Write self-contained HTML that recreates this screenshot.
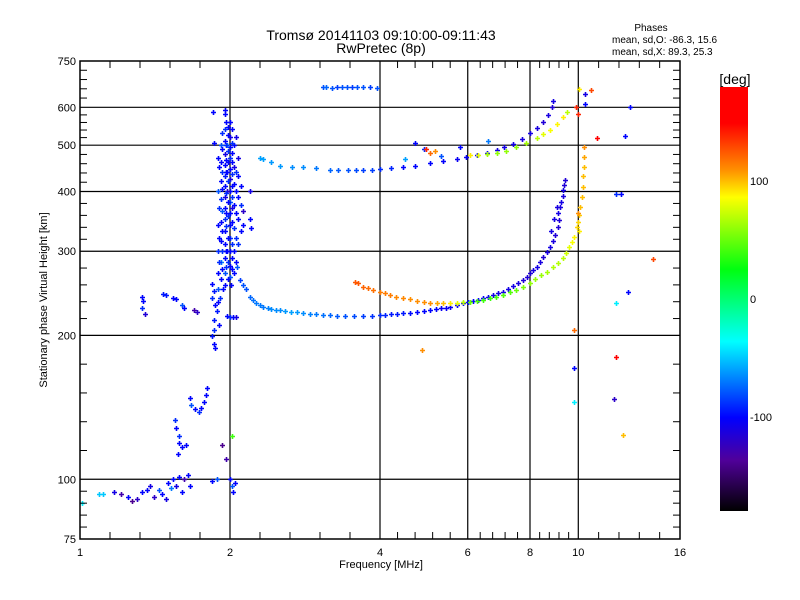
<!DOCTYPE html>
<html><head><meta charset="utf-8">
<style>
html,body{margin:0;padding:0;background:#fff;}
svg{display:block;font-family:"Liberation Sans",sans-serif;}
</style></head>
<body>
<svg id="chart" width="800" height="600" viewBox="0 0 800 600" xmlns="http://www.w3.org/2000/svg">
<defs>
<linearGradient id="cbar" x1="0" y1="0" x2="0" y2="1">
<stop offset="0" stop-color="#ff0000"/><stop offset="0.085" stop-color="#ff0000"/>
<stop offset="0.196" stop-color="#ff9000"/><stop offset="0.26" stop-color="#ffff00"/>
<stop offset="0.43" stop-color="#00ff10"/><stop offset="0.60" stop-color="#00ffff"/>
<stop offset="0.78" stop-color="#0000ff"/><stop offset="0.88" stop-color="#50009a"/>
<stop offset="1" stop-color="#000000"/>
</linearGradient>
</defs>
<text x="381" y="40" font-size="14" text-anchor="middle">Tromsø 20141103 09:10:00-09:11:43</text>
<text x="381" y="53" font-size="14" text-anchor="middle">RwPretec (8p)</text>
<text x="651" y="31" font-size="10" text-anchor="middle">Phases</text>
<text x="612" y="43" font-size="10">mean, sd,O: -86.3, 15.6</text>
<text x="612" y="55" font-size="10">mean, sd,X:  89.3, 25.3</text>
<g id="grid"></g>
<g id="marks"></g>
<rect x="80" y="61" width="600" height="478" fill="none" stroke="#000" stroke-width="1.5"/>
<g id="axes"></g>
<text x="381" y="568" font-size="11" text-anchor="middle">Frequency [MHz]</text>
<text x="0" y="0" font-size="11" text-anchor="middle" transform="translate(47,300) rotate(-90)">Stationary phase Virtual Height [km]</text>
<rect x="720" y="87" width="28" height="424" fill="url(#cbar)"/>
<text x="735" y="84" font-size="14" text-anchor="middle">[deg]</text>
<g id="cbticks"></g>
</svg>
<script>
const xTicks=[1,2,4,6,8,10,16];
const yTicks=[75,100,200,300,400,500,600,750];
const cbTicks=[100,0,-100];
const topLine=[[3.07,662,-80],[3.12,662,-75],[3.2,660,-80],[3.28,661,-85],[3.36,661,-80],[3.44,662,-80],[3.52,661,-85],[3.6,662,-80],[3.7,661,-80],[3.82,661,-85],[3.95,660,-80]];
const oLower=[[2.07,278,-80],[2.09,261,-85],[2.12,255,-80],[2.15,250,-80],[2.19,241,-75],[2.22,237,-72],[2.26,234,-70],[2.3,231,-70],[2.33,229,-70],[2.38,228,-68],[2.42,227,-65],[2.47,226,-65],[2.52,226,-65],[2.58,225,-62],[2.65,224,-60],[2.72,224,-62],[2.80,223,-65],[2.89,222,-68],[2.98,222,-70],[3.07,221,-72],[3.17,221,-75],[3.28,220,-78],[3.40,220,-80],[3.55,220,-82],[3.70,220,-85],[3.85,220,-88],[4.0,221,-90],[4.1,221,-92],[4.2,222,-95],[4.32,222,-95],[4.45,223,-95],[4.6,223,-98],[4.75,224,-100],[4.9,225,-100],[5.04,226,-100],[5.17,227,-102],[5.3,228,-105],[5.42,228,-105],[5.53,229,-105],[5.7,231,-105],[5.87,234,-105],[6.0,235,-100],[6.15,236,-100],[6.3,237,-102],[6.44,239,-105],[6.6,241,-108],[6.75,243,-110],[6.9,245,-110],[7.06,247,-110],[7.23,250,-110],[7.4,254,-110],[7.58,257,-112],[7.75,261,-115],[7.88,265,-115],[8.0,270,-115],[8.13,274,-112],[8.26,278,-110],[8.38,285,-112],[8.5,292,-115],[8.64,299,-112],[8.77,306,-110],[8.9,315,-112],[9.0,325,-115],[9.1,337,-115],[9.15,349,-115],[9.1,361,-110],[9.2,372,-112],[9.25,380,-110],[9.3,392,-112],[9.32,403,-110],[9.36,413,-115],[9.41,423,-115],[8.95,350,-110],[9.05,372,-112],[8.8,330,-110]];
const xLower=[[3.56,259,125],[3.62,257,125],[3.7,253,122],[3.78,251,120],[3.87,249,118],[4.0,246,115],[4.1,245,115],[4.19,243,115],[4.3,241,112],[4.45,240,112],[4.59,238,110],[4.75,236,110],[4.9,235,110],[5.04,234,110],[5.2,234,105],[5.35,234,100],[5.53,234,90],[5.7,234,80],[5.87,235,70],[6.06,235,50],[6.25,236,45],[6.44,237,40],[6.64,239,40],[6.85,241,42],[7.06,243,45],[7.28,246,45],[7.5,249,50],[7.75,253,55],[8.0,257,60],[8.2,262,62],[8.43,267,62],[8.66,272,65],[8.9,278,67],[9.1,284,68],[9.32,290,70],[9.45,298,75],[9.6,306,80],[9.7,314,85],[9.8,322,88],[9.95,337,95],[10.0,345,95],[10.05,358,98],[10.1,372,100],[10.15,390,100],[10.2,409,100],[10.22,430,100],[10.25,450,100],[10.25,472,105],[10.25,495,110],[10.0,360,110],[10.05,330,90]];
const oUpper=[[2.3,470,-60],[2.33,468,-60],[2.42,460,-62],[2.52,453,-62],[2.66,451,-65],[2.8,450,-65],[2.98,447,-70],[3.17,443,-75],[3.3,443,-78],[3.45,443,-80],[3.58,443,-82],[3.7,443,-85],[3.85,444,-85],[4.0,445,-90],[4.2,447,-92],[4.45,450,-100],[4.7,453,-100],[5.04,459,-100],[5.35,463,-102],[5.7,468,-105],[5.95,472,-105],[6.25,476,-105],[6.55,482,-108],[6.86,489,-110],[7.1,496,-110],[7.4,504,-110],[7.7,515,-112],[8.0,530,-110],[8.25,543,-112],[8.5,558,-115],[8.68,578,-112],[8.85,600,-115],[8.9,618,-110],[4.7,505,-100],[4.9,492,-90],[5.3,475,-80],[4.5,468,-60],[5.8,495,-100],[6.6,510,-70]];
const xUpper=[[6.06,476,90],[6.3,478,80],[6.55,479,65],[6.86,481,60],[7.15,487,60],[7.5,495,60],[7.85,506,65],[8.26,518,70],[8.5,527,80],[8.77,538,85],[9.05,553,88],[9.32,572,90],[9.5,588,70],[4.95,490,140],[5.05,482,120],[5.15,486,110]];
const spike=[[1.95,592,-100],[1.95,580,-100],[1.95,540,-90],[1.95,510,-100],[1.95,480,-110],[1.95,455,-100],[1.95,430,-95],[1.95,410,-100],[1.95,390,-110],[1.95,370,-100],[1.95,350,-90],[1.95,330,-100],[1.95,310,-100],[1.95,290,-100],[1.95,270,-80],[1.95,255,-100],[2.0,560,-100],[2.0,520,-110],[2.0,495,-100],[2.0,470,-90],[2.0,445,-100],[2.0,425,-110],[2.0,400,-100],[2.0,380,-80],[2.0,360,-100],[2.0,340,-100],[2.0,320,-90],[2.0,300,-100],[2.0,280,-100],[2.0,265,-80],[1.92,500,-80],[1.92,460,-100],[1.92,420,-100],[1.92,385,-90],[1.92,345,-100],[1.92,315,-100],[1.92,285,-70],[1.92,262,-100],[2.04,500,-100],[2.04,450,-110],[2.04,415,-100],[2.04,375,-100],[2.04,335,-90],[2.04,300,-100],[2.04,270,-100],[1.89,470,-100],[1.89,400,-80],[1.89,340,-100],[1.89,300,-90],[1.89,270,-100],[1.89,250,-80],[1.89,235,-100],[2.08,470,-110],[2.08,430,-100],[2.08,390,-100],[2.08,350,-100],[2.08,310,-90],[1.97,500,-70],[1.97,440,-100],[1.97,400,-120],[1.97,300,-100],[1.98,545,-100],[2.02,460,-100],[2.02,370,-110],[2.02,290,-100],[2.19,400,-110],[2.19,350,-100],[2.2,335,-100],[2.12,365,-120],[2.12,340,-100],[1.97,220,-100],[2.0,219,-90],[2.03,218,-100],[2.06,219,-110],[1.86,505,-100],
[1.93,530,-90],[1.93,490,-100],[1.93,440,-90],[1.93,405,-100],[1.93,365,-80],[1.93,330,-100],[1.93,300,-90],[1.93,275,-100],[1.98,525,-100],[1.98,485,-90],[1.98,462,-100],[1.98,420,-90],[1.98,380,-100],[1.98,355,-90],[1.98,320,-100],[1.98,285,-90],[1.98,262,-100],[2.02,540,-100],[2.02,505,-90],[2.02,482,-100],[2.02,435,-90],[2.02,410,-100],[2.02,390,-90],[2.02,345,-100],[2.02,310,-90],[2.02,275,-100],[2.06,520,-110],[2.06,440,-90],[2.06,400,-100],[2.06,360,-100],[2.06,320,-90],[2.06,285,-100],[1.9,450,-100],[1.9,370,-90],[1.9,320,-100],[1.9,285,-90],[2.1,410,-100],[2.1,375,-90],[2.1,330,-100],[1.96,560,-100],[1.96,500,-90],[1.96,465,-100],[1.96,440,-100],[1.96,398,-90],[1.96,360,-100],[1.96,338,-90],[1.96,300,-100],[1.96,278,-90],[1.94,250,-100],[1.91,240,-90],[2.01,255,-100]];
const lowerLeft=[[1.33,241,-100],[1.34,236,-100],[1.33,228,-90],[1.35,222,-115],[1.47,244,-95],[1.49,243,-95],[1.54,240,-100],[1.56,238,-100],[1.6,232,-80],[1.62,228,-100],[1.69,226,-130],[1.72,224,-120],[1.84,256,-100],[1.86,248,-95],[1.84,240,-90],[1.87,232,-100],[1.88,225,-95],[1.86,215,-95],[1.9,210,-100],[1.86,205,-90],[1.84,199,-95],[1.86,192,-100],[1.87,188,-100],[1.80,155,-100],[1.79,150,-100],[1.66,148,-100],[1.67,143,-80],[1.70,140,-100],[1.73,138,-90],[1.75,141,-100],[1.77,145,-100],[1.55,133,-90],[1.56,128,-100],[1.58,123,-90],[1.58,119,-100],[1.6,117,-100],[1.63,118,-100],[1.57,113,-100],[1.01,89,-40],[1.09,93,-50],[1.11,93,-50],[1.17,94,-110],[1.21,93,-130],[1.25,92,-100],[1.27,90,-140],[1.3,91,-120],[1.33,94,-100],[1.36,95,-100],[1.38,97,-110],[1.41,92,-120],[1.44,95,-80],[1.46,93,-100],[1.49,91,-110],[1.5,98,-100],[1.52,96,-70],[1.54,100,-100],[1.56,97,-110],[1.58,101,-100],[1.6,94,-100],[1.62,100,-130],[1.66,97,-100],[1.65,102,-100],[1.84,99,-100],[1.88,100,-80],[1.96,110,-130],[2.0,100,-100],[2.02,97,-80],[2.05,98,-100],[2.03,94,-100],[1.93,118,-140],[2.02,123,40]];
const outliers=[[11.9,234,-40],[12.6,247,-100],[14.1,289,130],[11.9,180,160],[10.9,517,150],[12.4,522,-100],[12.7,600,-100],[11.9,396,-90],[12.2,396,-100],[11.8,147,-120],[12.3,124,100],[9.8,171,-100],[9.8,145,-40],[9.8,205,120],[4.86,186,110],[10.04,655,90],[10.6,652,130],[10.3,640,-110],[10.3,610,-100],[9.9,600,140],[10.0,580,140],[1.85,588,-100]];
const traces=[topLine,oLower,xLower,oUpper,xUpper,spike,lowerLeft,outliers];

const X0=80,X1=680,Y0=539,Y1=61;
function xScale(f){return X0+(X1-X0)*Math.log2(f)/4;}
function yScale(h){return Y0-(Y0-Y1)*Math.log10(h/75);}
const stops=[[0,[255,0,0]],[0.085,[255,0,0]],[0.196,[255,144,0]],[0.26,[255,255,0]],[0.43,[0,255,16]],[0.60,[0,255,255]],[0.78,[0,0,255]],[0.88,[80,0,154]],[1,[0,0,0]]];
function phaseColor(p){let t=(180-p)/360;t=Math.max(0,Math.min(1,t));
 for(let i=1;i<stops.length;i++){if(t<=stops[i][0]){const a=stops[i-1],b=stops[i];const u=(t-a[0])/((b[0]-a[0])||1);
 const c=a[1].map((v,k)=>Math.round(v+(b[1][k]-v)*u));return 'rgb('+c.join(',')+')';}}return '#000';}
const NS='http://www.w3.org/2000/svg';
function mk(tag,attrs,parent){const e=document.createElementNS(NS,tag);for(const k in attrs)e.setAttribute(k,attrs[k]);parent.appendChild(e);return e;}
const grid=document.getElementById('grid'),axes=document.getElementById('axes'),marks=document.getElementById('marks'),cbt=document.getElementById('cbticks');
xTicks.forEach((f,i)=>{const x=xScale(f);
 if(i>0&&i<xTicks.length-1){const l=mk('line',{x1:x,y1:Y1,x2:x,y2:Y0,stroke:'#000','stroke-width':1.2},grid);
 
 }
 const t=mk('text',{x:x,y:556,'font-size':11,'text-anchor':'middle'},axes);t.textContent=f;
 
 
 if(i<xTicks.length-1){const xa=x,xb=xScale(xTicks[i+1]);for(let k=1;k<5;k++){const xm=xa+(xb-xa)*k/5;
 mk('line',{x1:xm,y1:Y0,x2:xm,y2:Y0-7,stroke:'#000'},axes);mk('line',{x1:xm,y1:Y1,x2:xm,y2:Y1+7,stroke:'#000'},axes);}}
});
yTicks.forEach((h,i)=>{const y=yScale(h);
 if(i>0&&i<yTicks.length-1){const l=mk('line',{x1:X0,y1:y,x2:X1,y2:y,stroke:'#000','stroke-width':1.2},grid);
 
 }
 const t=mk('text',{x:76,y:y+4,'font-size':11,'text-anchor':'end'},axes);t.textContent=h;
 
 
 if(i<yTicks.length-1){const ya=y,yb=yScale(yTicks[i+1]);for(let k=1;k<5;k++){const ym=ya+(yb-ya)*k/5;
 mk('line',{x1:X0,y1:ym,x2:X0+7,y2:ym,stroke:'#000'},axes);mk('line',{x1:X1,y1:ym,x2:X1-7,y2:ym,stroke:'#000'},axes);}}
});
traces.forEach(tr=>tr.forEach(d=>{const x=Math.round(xScale(d[0])),y=Math.round(yScale(d[1])),c=phaseColor(d[2]);
 const p=mk('path',{d:'M'+(x-2)+' '+(y+0.5)+'h5M'+(x+0.5)+' '+(y-2)+'v5',stroke:c,'stroke-width':1.6,fill:'none'},marks);
 
 
}));
cbTicks.forEach(v=>{const y=87+(180-v)/360*424;const t=mk('text',{x:750,y:y+4,'font-size':11},cbt);t.textContent=v;
 
 });
</script>
</body></html>
